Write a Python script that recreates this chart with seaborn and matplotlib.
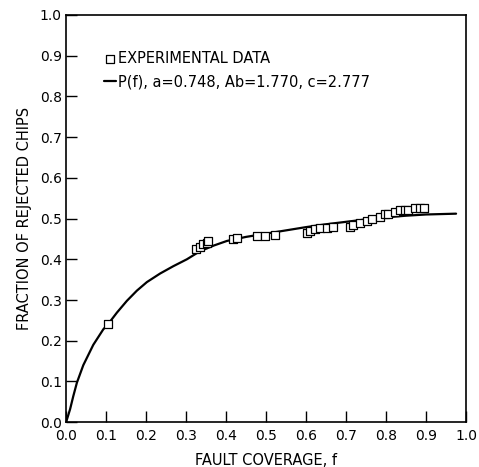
import matplotlib
matplotlib.use("Agg")
import matplotlib.pyplot as plt
import seaborn as sns
import pandas as pd

fault_cov = [0.106, 0.325, 0.335, 0.343, 0.352, 0.356, 0.418, 0.428, 0.477, 0.497,
             0.522, 0.602, 0.610, 0.622, 0.635, 0.652, 0.668, 0.710, 0.718, 0.735,
             0.752, 0.765, 0.785, 0.797, 0.806, 0.822, 0.835, 0.847, 0.856, 0.872,
             0.885, 0.895]
frac_rejected = [0.240, 0.425, 0.430, 0.437, 0.440, 0.445, 0.450, 0.452, 0.458, 0.458,
                 0.460, 0.465, 0.470, 0.475, 0.476, 0.477, 0.480, 0.480, 0.485, 0.490,
                 0.495, 0.500, 0.505, 0.510, 0.510, 0.515, 0.520, 0.521, 0.521, 0.525,
                 0.525, 0.525]

# fitted curve P(f)
curve_f = [0.0, 0.005, 0.010, 0.018, 0.027, 0.043, 0.068, 0.093, 0.106, 0.127,
           0.152, 0.177, 0.202, 0.235, 0.268, 0.302, 0.335, 0.370, 0.402, 0.450,
           0.500, 0.550, 0.600, 0.650, 0.700, 0.750, 0.800, 0.850, 0.900, 0.975]
curve_p = [0.0, 0.016, 0.032, 0.064, 0.097, 0.140, 0.190, 0.228, 0.242, 0.269,
           0.298, 0.323, 0.344, 0.365, 0.383, 0.400, 0.420, 0.434, 0.445, 0.455,
           0.463, 0.471, 0.479, 0.486, 0.492, 0.498, 0.503, 0.507, 0.510, 0.512]

ticks = [0.0, 0.1, 0.2, 0.3, 0.4, 0.5, 0.6, 0.7, 0.8, 0.9, 1.0]
tick_labels = ["0.0", "0.1", "0.2", "0.3", "0.4", "0.5", "0.6", "0.7", "0.8", "0.9", "1.0"]

sns.set_style("ticks", {"text.color": "black", "axes.labelcolor": "black",
                        "xtick.color": "black", "ytick.color": "black",
                        "axes.edgecolor": "black"})
plt.rcParams["font.family"] = ["DejaVu Sans"]

df_pts = pd.DataFrame({"f": fault_cov, "p": frac_rejected})
df_curve = pd.DataFrame({"f": curve_f, "p": curve_p})

fig = plt.figure(figsize=(4.79, 4.67), dpi=100)
ax = fig.add_axes([0.138, 0.096, 0.835, 0.872])

sns.lineplot(data=df_curve, x="f", y="p", ax=ax, color="black", linewidth=1.6,
             label="P(f), a=0.748, Ab=1.770, c=2.777", zorder=2)
sns.scatterplot(data=df_pts, x="f", y="p", ax=ax, marker="s", s=30,
                facecolor="white", edgecolor="black", linewidth=0.9,
                label="EXPERIMENTAL DATA", zorder=3)

ax.set_xlim(0, 1.0)
ax.set_ylim(0, 1.0)
ax.set_xticks(ticks)
ax.set_yticks(ticks)
ax.set_xticklabels(tick_labels, fontsize=10)
ax.set_yticklabels(tick_labels, fontsize=10)
ax.tick_params(direction="in", length=8, width=1.0, colors="black")
ax.tick_params(axis="x", pad=5)
ax.tick_params(axis="y", pad=3)
for sp in ax.spines.values():
    sp.set_linewidth(1.2)
    sp.set_color("black")
    sp.set_visible(True)

ax.set_xlabel("FAULT COVERAGE, f", fontsize=10.5, labelpad=7, color="black")
ax.set_ylabel("FRACTION OF REJECTED CHIPS", fontsize=10.5, labelpad=6, color="black")

handles, labels = ax.get_legend_handles_labels()
leg = ax.legend(handles[::-1], labels[::-1], loc="upper left", bbox_to_anchor=(0.08, 0.925),
                frameon=False, fontsize=10.5, handlelength=0.8, handletextpad=0.15,
                labelspacing=0.55, borderaxespad=0)
for t in leg.get_texts():
    t.set_color("black")

fig.savefig("out.png", dpi=100)
